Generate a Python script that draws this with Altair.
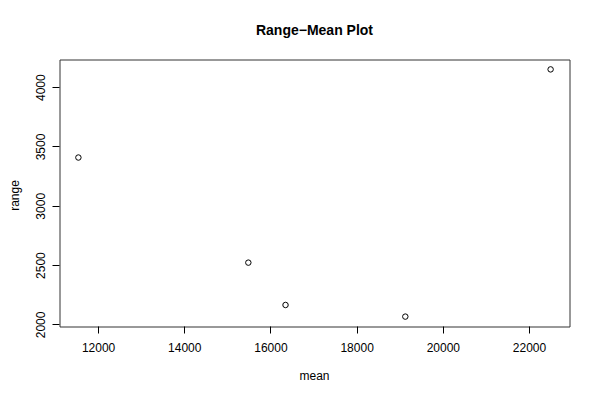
import altair as alt
import pandas as pd

means = [11531, 15475, 16338, 19118, 22490]
ranges = [3411, 2525, 2168, 2070, 4154]
x_ticks = [12000, 14000, 16000, 18000, 20000, 22000]
y_ticks = [2000, 2500, 3000, 3500, 4000]

df = pd.DataFrame({"mean": means, "range": ranges})

def padded(vals):
    lo, hi = min(vals), max(vals)
    p = 0.04 * (hi - lo)
    return [lo - p, hi + p]

FONT = "Liberation Sans"

chart = alt.Chart(df).mark_point(
    shape="circle", filled=False, color="black", size=30, strokeWidth=1, opacity=1
).encode(
    x=alt.X("mean:Q", scale=alt.Scale(domain=padded(means), nice=False, zero=False),
            axis=alt.Axis(values=x_ticks, title="mean", grid=False, domain=False,
                          tickColor="black", tickSize=7, labelPadding=9,
                          labelFont=FONT, labelFontSize=12, labelColor="black",
                          titleFont=FONT, titleFontSize=12, titleFontWeight="normal",
                          titleColor="black", titlePadding=17, format="d",
                          labelFlush=False, translate=0)),
    y=alt.Y("range:Q", scale=alt.Scale(domain=padded(ranges), nice=False, zero=False),
            axis=alt.Axis(values=y_ticks, title="range", grid=False, domain=False,
                          tickColor="black", tickSize=7, labelPadding=5,
                          labelAngle=270, labelAlign="center", labelBaseline="bottom",
                          labelFont=FONT, labelFontSize=12, labelColor="black",
                          titleFont=FONT, titleFontSize=12, titleFontWeight="normal",
                          titleColor="black", titleX=-38, titleY=136,
                          format="d", labelFlush=False, translate=0)),
).properties(
    width=510, height=267,
    background="white",
    title=alt.TitleParams("Range\u2212Mean Plot", font=FONT, fontSize=14,
                          fontWeight="bold", color="black", anchor="middle", offset=22),
    autosize=alt.AutoSizeParams(type="none"),
    padding={"left": 51.5, "top": 51.5, "right": 22, "bottom": 65},
).configure_view(stroke="#333333", strokeWidth=1)

chart.save("out.html", embed_options={"renderer": "svg", "actions": False})
